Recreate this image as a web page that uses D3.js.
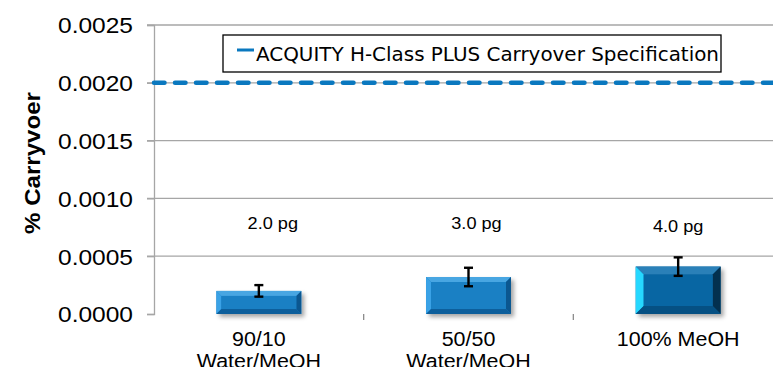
<!DOCTYPE html>
<html>
<head>
<meta charset="utf-8">
<script src="https://cdn.jsdelivr.net/npm/d3@7"></script>
<style>
  body { margin: 0; background: #fff; }
  svg { display: block; }
</style>
</head>
<body>
<div id="chart"></div>
<script>
// chart values
const categories = [["90/10", "Water/MeOH"], ["50/50", "Water/MeOH"], ["100% MeOH"]];
const carryover = [0.00020, 0.00032, 0.00041];
const errors = [0.00005, 0.00008, 0.00008];
const amounts = ["2.0 pg", "3.0 pg", "4.0 pg"];
const spec = 0.0020;
const yTicks = [0, 0.0005, 0.0010, 0.0015, 0.0020, 0.0025];
const specLabel = "ACQUITY H-Class PLUS Carryover Specification";

const W = 773, H = 367;
const margin = { top: 25, right: -10, bottom: 53, left: 154 };
const width = W - margin.left - margin.right,
      height = H - margin.top - margin.bottom;
const font = "Liberation Sans, Arial, sans-serif";

const svg = d3.select("#chart").append("svg")
  .attr("width", W).attr("height", H);

const defs = svg.append("defs");
const f = defs.append("filter").attr("id", "shadow")
  .attr("x", "-20%").attr("y", "-20%").attr("width", "150%").attr("height", "160%");
f.append("feDropShadow").attr("dx", 3).attr("dy", 3).attr("stdDeviation", 2)
  .attr("flood-color", "#000").attr("flood-opacity", 0.35);

const g = svg.append("g").attr("transform", `translate(${margin.left},${margin.top})`);

const x = d3.scaleBand().domain(d3.range(categories.length)).range([0, width]);
const y = d3.scaleLinear().domain([0, 0.0025]).range([height, 0]);

// gridlines
g.append("g").selectAll("line").data(yTicks.slice(1)).join("line")
  .attr("x1", -7).attr("x2", width)
  .attr("y1", d => y(d)).attr("y2", d => y(d))
  .attr("stroke", "#a6a6a6").attr("stroke-width", 1.3);

// y axis
const yAxis = g.append("g")
  .call(d3.axisLeft(y).tickValues(yTicks).tickFormat(d3.format(".4f")).tickSize(7).tickPadding(14));
yAxis.select(".domain").attr("stroke", "#a6a6a6").attr("stroke-width", 1.3);
yAxis.selectAll(".tick line").attr("stroke", "#a6a6a6").attr("stroke-width", 1.3);
yAxis.selectAll("text").attr("font-family", font)
  .attr("font-size", 22.5).attr("fill", "#000").attr("dy", "0.35em")
  .attr("textLength", 75).attr("lengthAdjust", "spacingAndGlyphs");

// x baseline with shadow
g.append("line").attr("x1", 0).attr("x2", width).attr("y1", height).attr("y2", height)
  .attr("stroke", "#8c8c8c").attr("stroke-width", 1.5).attr("filter", "url(#shadow)");
// category separators
g.append("g").selectAll("line").data(d3.range(1, categories.length)).join("line")
  .attr("x1", d => x(d)).attr("x2", d => x(d))
  .attr("y1", height).attr("y2", height + 6)
  .attr("stroke", "#8c8c8c").attr("stroke-width", 1.3);

// spec dashed line
g.append("line").attr("x1", 0).attr("x2", width)
  .attr("y1", y(spec)).attr("y2", y(spec))
  .attr("stroke", "#0a78bf").attr("stroke-width", 4.5)
  .attr("stroke-linecap", "round")
  .attr("stroke-dasharray", "10.5,10.5");

// bars with bevel
const bw = x.bandwidth() * 0.405;
const faces = ["#1a80c4", "#1a80c4", "#0866a3"];
const tops = ["#48a6e2", "#48a6e2", "#2a80b8"];
const lefts = ["#3aa2e6", "#3aa2e6", "#26d8ff"];
const rights = ["#0b5790", "#0b5790", "#03304f"];
const bottoms = ["#0d5f9c", "#0d5f9c", "#055083"];
const bevels = [5, 5, 8];

const bars = g.append("g").selectAll("g").data(carryover).join("g")
  .attr("transform", (d, i) => `translate(${x(i) + (x.bandwidth() - bw) / 2},${y(d)})`);
bars.append("rect")
  .attr("width", bw).attr("height", d => height - y(d))
  .attr("fill", (d, i) => faces[i])
  .attr("filter", "url(#shadow)");
bars.each(function(d, i) {
  const h = height - y(d);
  const b = Math.min(bevels[i], h / 2.5);
  const s = d3.select(this);
  s.append("path").attr("d", `M0,0 L${bw},0 L${bw - b},${b} L${b},${b} Z`).attr("fill", tops[i]);
  s.append("path").attr("d", `M0,0 L${b},${b} L${b},${h - b} L0,${h} Z`).attr("fill", lefts[i]);
  s.append("path").attr("d", `M${bw},0 L${bw},${h} L${bw - b},${h - b} L${bw - b},${b} Z`).attr("fill", rights[i]);
  s.append("path").attr("d", `M0,${h} L${bw},${h} L${bw - b},${h - b} L${b},${h - b} Z`).attr("fill", bottoms[i]);
  s.append("rect").attr("x", b).attr("y", b).attr("width", bw - 2 * b).attr("height", Math.max(0, h - 2 * b))
    .attr("fill", faces[i]);
});

// error bars
const cx = i => x(i) + x.bandwidth() / 2;
const eb = g.append("g").selectAll("g").data(carryover).join("g")
  .attr("stroke", "#000").attr("stroke-width", 2.4);
eb.append("line")
  .attr("x1", (d, i) => cx(i)).attr("x2", (d, i) => cx(i))
  .attr("y1", (d, i) => y(d + errors[i])).attr("y2", (d, i) => y(d - errors[i]));
eb.append("line")
  .attr("x1", (d, i) => cx(i) - 4.5).attr("x2", (d, i) => cx(i) + 4.5)
  .attr("y1", (d, i) => y(d + errors[i])).attr("y2", (d, i) => y(d + errors[i]));
eb.append("line")
  .attr("x1", (d, i) => cx(i) - 4.5).attr("x2", (d, i) => cx(i) + 4.5)
  .attr("y1", (d, i) => y(d - errors[i])).attr("y2", (d, i) => y(d - errors[i]));

// amount labels (stretched wider via scale, the source font runs wide)
g.append("g").selectAll("text").data(amounts).join("text")
  .attr("transform", (d, i) =>
    `translate(${cx(i) + (i === 0 ? 14 : i === 1 ? 8 : 0)},${y(i === 2 ? 0.00071 : 0.000735)}) scale(1.1,1)`)
  .attr("text-anchor", "middle")
  .attr("font-family", font).attr("font-size", 16.5)
  .text(d => d);

// category labels, one text per line
const lines = categories.flatMap((d, i) => d.map((t, j) => ({ t, i, j })));
g.append("g").selectAll("text").data(lines).join("text")
  .attr("transform", d => `translate(${cx(d.i)},${height + 32 + d.j * 22}) scale(1.1,1)`)
  .attr("text-anchor", "middle")
  .attr("font-family", font).attr("font-size", 19.5)
  .text(d => d.t);

// y title
svg.append("text")
  .attr("transform", `translate(40,163) rotate(-90) scale(1.12,1)`)
  .attr("text-anchor", "middle")
  .attr("font-family", font).attr("font-size", 21.5).attr("font-weight", "bold")
  .text("% Carryvoer");

// legend
const lg = svg.append("g").attr("transform", "translate(223,35)");
lg.append("rect").attr("width", 498).attr("height", 37)
  .attr("fill", "#fff").attr("stroke", "#000").attr("stroke-width", 1.3);
lg.append("line").attr("x1", 14).attr("x2", 31).attr("y1", 15).attr("y2", 15)
  .attr("stroke", "#0a78bf").attr("stroke-width", 3);
lg.append("text").attr("x", 33).attr("y", 25.5)
  .attr("font-family", "DejaVu Sans, Verdana, sans-serif").attr("font-size", 19.5)
  .text(specLabel)
  .attr("textLength", 463).attr("lengthAdjust", "spacingAndGlyphs");
</script>
</body>
</html>
